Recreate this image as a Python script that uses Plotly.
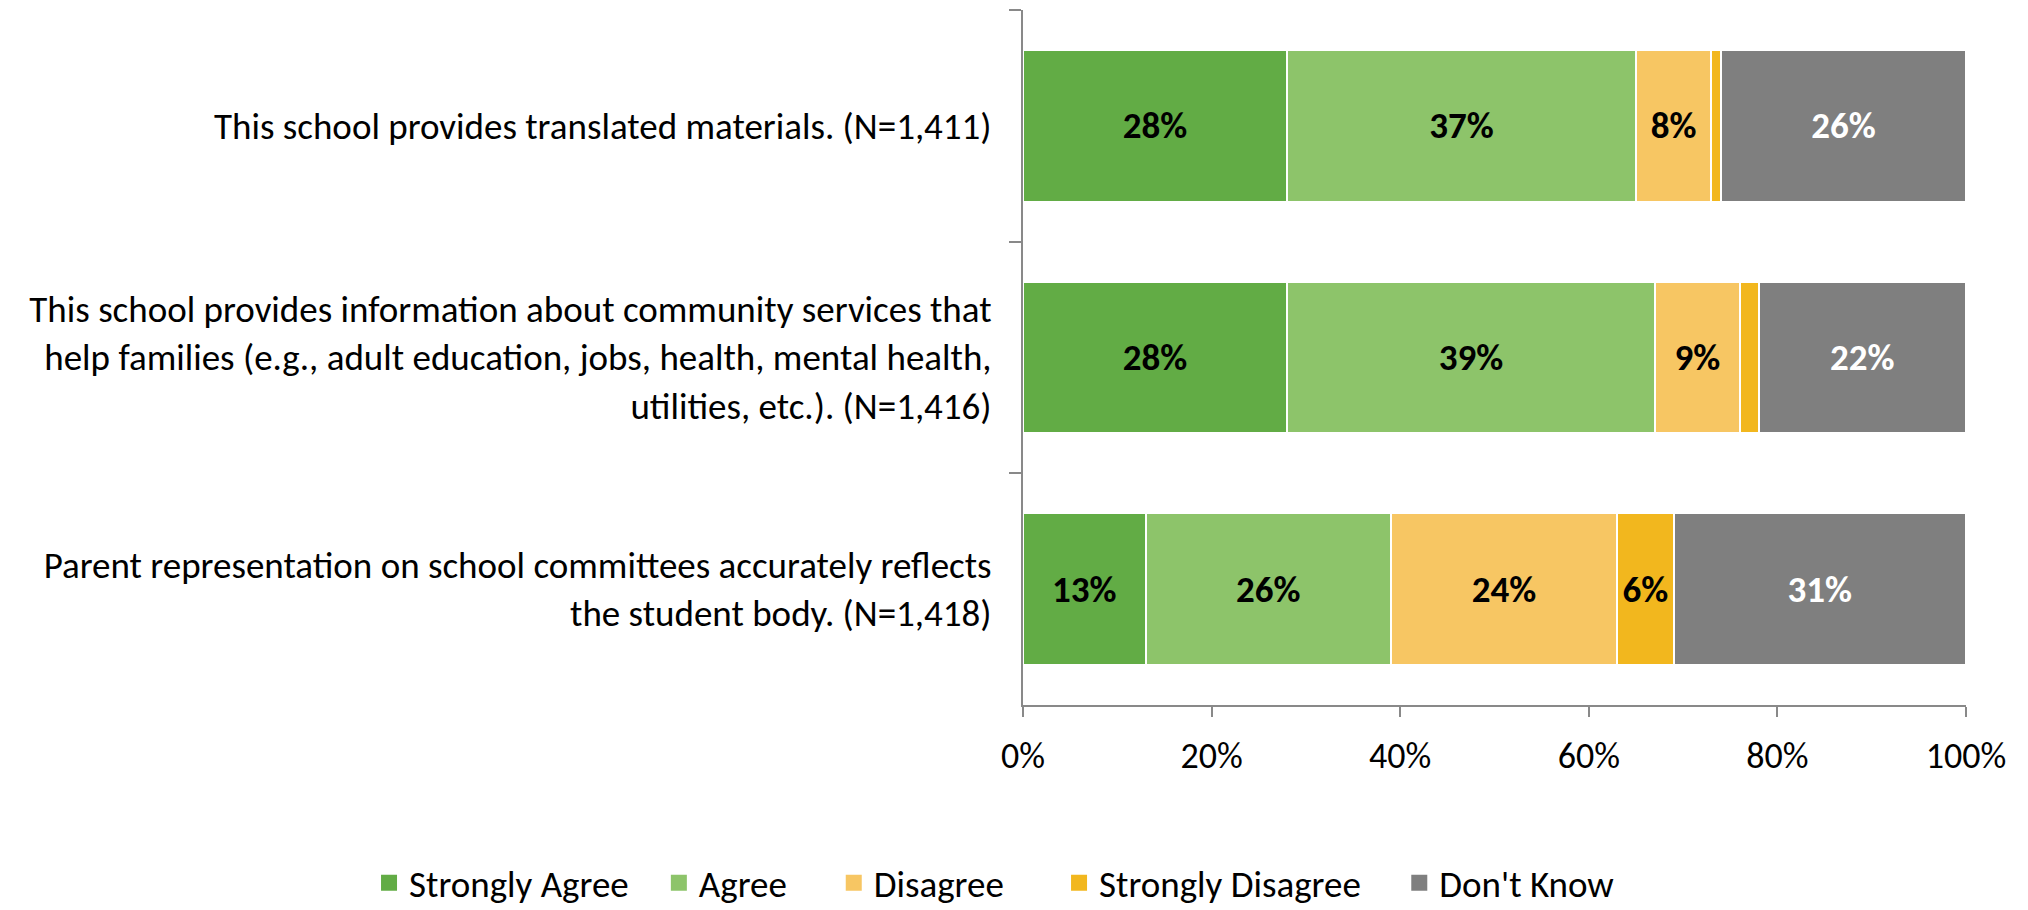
import plotly.graph_objects as go

categories = [
    "This school provides translated materials. (N=1,411)",
    "This school provides information about community services that<br>help families (e.g., adult education, jobs, health, mental health,<br>utilities, etc.). (N=1,416)",
    "Parent representation on school committees accurately reflects<br>the student body. (N=1,418)",
]
series_names = ["Strongly Agree", "Agree", "Disagree", "Strongly Disagree", "Don't Know"]
strongly_agree = [28, 28, 13]
agree = [37, 39, 26]
disagree = [8, 9, 24]
strongly_disagree = [1, 2, 6]
dont_know = [26, 22, 31]
x_ticks = [0, 20, 40, 60, 80, 100]
x_tick_labels = ["0%", "20%", "40%", "60%", "80%", "100%"]

series_values = [strongly_agree, agree, disagree, strongly_disagree, dont_know]
colors = ["#62AC45", "#8DC46A", "#F7C663", "#F2B71E", "#7F7F7F"]
label_colors = ["black", "black", "black", "black", "white"]
legend_pad = [3, 5, 6, 4, 0]  # trailing spacing after each legend entry

FONT = "Carlito, 'Liberation Sans Narrow', 'Open Sans', sans-serif"
AXIS_GREY = "#898989"

fig = go.Figure()
for name, vals, col, lc in zip(series_names, series_values, colors, label_colors):
    fig.add_trace(go.Bar(
        y=categories, x=vals, name=name, orientation="h", showlegend=False,
        marker=dict(color=col, line=dict(color="white", width=2)),
        text=[f"{v}%" if v >= 5 else "" for v in vals],
        textposition="inside", insidetextanchor="middle",
        textfont=dict(family=FONT, size=37, color=lc),
        texttemplate="<b>%{text}</b>",
        hoverinfo="skip",
    ))
# legend entries with square swatches
for name, col, pad in zip(series_names, colors, legend_pad):
    fig.add_trace(go.Scatter(
        x=[None], y=[None], mode="markers", name=name + "\u00a0" * pad,
        marker=dict(symbol="square", size=17, color=col),
        hoverinfo="skip",
    ))

fig.update_layout(
    barmode="stack", bargap=0.345,
    width=2028, height=910,
    margin=dict(l=1015, r=70, t=2, b=213, autoexpand=False),
    plot_bgcolor="white", paper_bgcolor="white",
    font=dict(family=FONT, size=37, color="black"),
    uniformtext=dict(mode="show", minsize=10),
    legend=dict(orientation="h", x=-0.6935, xanchor="left", y=-0.301, yanchor="bottom",
                font=dict(family=FONT, size=37), traceorder="normal",
                itemsizing="trace", itemwidth=30, tracegroupgap=0),
    xaxis=dict(range=[0, 100], tickvals=x_ticks, ticktext=x_tick_labels,
               showgrid=False, zeroline=False, showline=True, linecolor=AXIS_GREY, linewidth=2,
               ticks="outside", ticklen=10, tickcolor=AXIS_GREY, tickwidth=2,
               ticklabelstandoff=8,
               tickfont=dict(family=FONT, size=36), fixedrange=True, automargin=False),
    yaxis=dict(autorange="reversed", showgrid=False, showline=True, linecolor=AXIS_GREY, linewidth=2,
               ticks="outside", tickson="boundaries", ticklen=12, tickcolor=AXIS_GREY, tickwidth=2,
               ticklabelstandoff=22, tickfont=dict(family=FONT, size=37), fixedrange=True,
               automargin=False),
)

fig.write_html("out.html")
